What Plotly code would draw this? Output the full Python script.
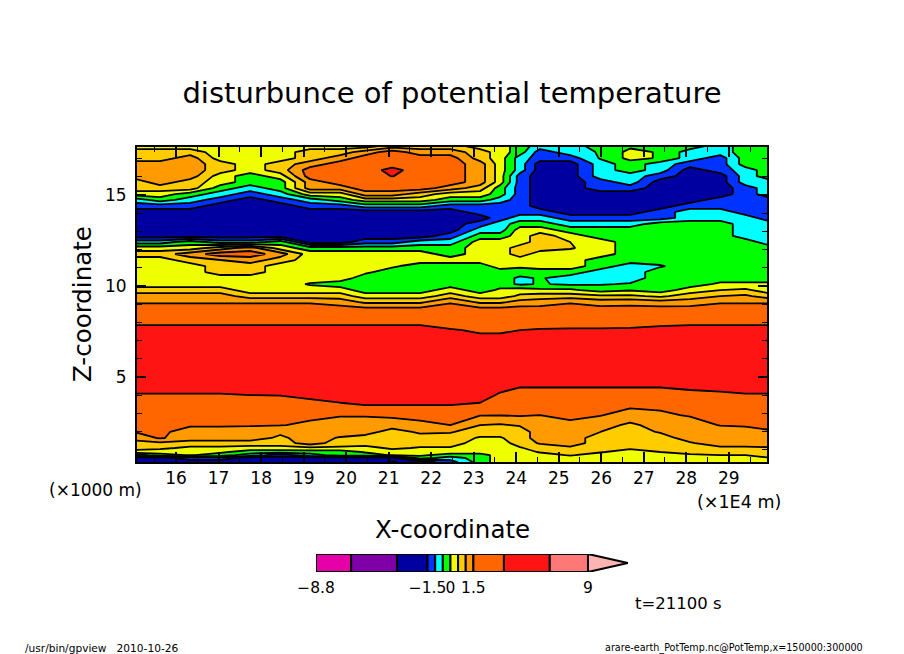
import numpy as np
import plotly.graph_objects as go

# grid positions
x_km = [15.06, 15.62, 16.33, 17.04, 17.74, 18.45, 19.15, 19.86, 20.45, 21.08, 21.74, 22.45,
        23.15, 23.62, 24.09, 24.56, 25.27, 25.98, 26.68, 27.39, 28.09, 28.80, 29.39, 29.93]
z_km = [17.69, 17.36, 17.03, 16.70, 16.37, 16.04, 15.71, 15.38, 15.05, 14.73,
        14.40, 14.07, 13.74, 13.41, 13.08, 12.75, 12.42, 12.09, 11.76, 11.43,
        11.10, 10.77, 10.44, 10.11, 9.78, 9.45, 9.12, 8.68,
        8.13, 7.58, 6.48, 4.84, 4.01, 3.46, 2.91, 2.36,
        1.98, 1.65, 1.37, 1.10, 0.88, 0.71, 0.55, 0.33]

# one vertical profile per x position, top to bottom
profiles = [
    [.25,.75,.75,1.25,1.25,1.25,.75,.75,.25,-.75,
     -1.25,-2.5,-2.5,-2.5,-2.5,-2.5,-.75,.25,.75,.25,
     .25,.25,.25,.25,.75,1.25,1.45,2.5,
     2.5,5,5,5,3.4,2.5,2.5,2.5,
     1.6,1.25,.75,.75,.25,-.75,-2.5,-2.5],
    [.25,.75,.75,1.25,1.25,1.25,1.25,.75,.25,-.25,
     -1.25,-2.5,-2.5,-2.5,-2.5,-2.5,-.75,.25,.75,.25,
     .25,.25,.25,.25,.75,1.25,1.45,2.5,
     2.5,5,5,5,3.4,2.5,2.5,2.5,
     2.0,1.7,.9,.6,.25,-.25,-2.5,-2.5],
    [.25,.75,1.25,1.25,1.25,1.25,.75,.75,-.25,-.75,
     -1.25,-2.5,-2.5,-2.5,-2.5,-2.5,-.25,.25,1.25,.75,
     .25,.25,.25,.25,.75,1.25,1.45,2.5,
     2.5,5,5,5,3.4,2.5,2.5,1.8,
     1.25,1.25,.75,.4,.25,.05,-1.25,-2.5],
    [.25,.25,.25,.75,.75,.25,.25,-.25,-.75,-1.25,
     -2.5,-2.5,-2.5,-2.5,-2.5,-2.5,-.75,.75,2.5,1.0,
     .75,.75,.25,.25,.75,1.25,1.45,2.5,
     2.5,5,5,5,3.4,2.5,2.5,1.8,
     1.25,1.25,.75,.4,.1,-.25,-1.25,-2.5],
    [.25,.25,.25,.25,.25,-.25,-.25,-.75,-1.25,-2.5,
     -2.5,-2.5,-2.5,-2.5,-2.5,-2.5,-.75,1.25,2.5,1.25,
     .75,.75,.25,.25,.25,.75,1.45,2.5,
     2.5,5,5,5,3.5,2.5,2.5,1.7,
     1.25,1.25,.75,.3,-.25,-.75,-2.5,-2.5],
    [.25,.25,.25,.75,.75,.25,-.25,-.25,-.75,-1.25,
     -2.5,-2.5,-2.5,-2.5,-2.5,-2.5,-.25,.25,1.25,.75,
     .25,.25,.25,.25,.25,.75,1.45,2.5,
     2.5,5,5,5,3.6,2.5,2.5,1.6,
     1.1,.9,.75,.3,-.25,-1.25,-2.5,-2.5],
    [.25,.75,.75,1.25,2.5,2.5,1.25,1.25,.25,-.75,
     -1.25,-2.5,-2.5,-2.5,-2.5,-2.5,-2.5,-.25,.25,.25,
     .25,.25,.25,-.05,.25,.75,1.45,2.5,
     2.5,5,5,5,4.0,3.0,2.0,1.4,
     1.25,1.25,1.25,.4,-.25,-.75,-2.5,-2.5],
    [.25,.75,1.25,2.5,2.5,2.5,2.5,1.25,.25,-.25,
     -1.25,-2.5,-2.5,-2.5,-2.5,-2.5,-2.5,-.25,.25,.25,
     .25,.25,.25,-.25,.25,.75,1.3,2.5,
     2.5,5,5,5,4.5,3.3,1.7,1.25,
     1.25,.95,.75,.4,-.25,-.25,-2.5,-2.5],
    [.25,1.25,2.5,2.5,2.5,2.5,2.5,2.5,1.25,.25,
     -.75,-2.5,-2.5,-2.5,-2.5,-2.5,-1.25,-.25,.25,.25,
     .25,.1,-.25,-.25,-.25,.25,.9,2.5,
     2.5,5,5,5,5,3.5,1.7,1.25,
     1.25,.75,.75,.3,.05,-.25,-2.5,-2.5],
    [.75,2.5,2.5,2.5,4.5,3.6,2.5,2.5,1.25,.25,
     -.75,-2.5,-2.5,-2.5,-2.5,-2.5,-1.25,-.25,.25,.25,
     .1,-.25,-.25,-.25,-.25,.25,.9,2.5,
     2.5,5,5,5,5,3.5,1.9,1.25,
     .75,.75,.75,.6,.25,.05,-2.5,-3.8],
    [.75,1.25,2.5,2.5,2.5,2.5,2.5,2.5,.75,.25,
     -.75,-2.5,-2.5,-2.5,-2.5,-2.5,-.75,-.25,.25,.25,
     -.25,-.25,-.25,-.25,-.25,.25,.9,2.5,
     2.5,5,5,5,5,3.5,2.0,1.4,
     1.1,.75,.75,.45,.25,.1,-.25,-2.5],
    [.75,1.25,2.5,2.5,2.5,2.5,2.5,1.25,.25,-.25,
     -1.25,-2.5,-2.5,-2.5,-2.5,-1.25,-.75,-.25,-.25,.25,
     -.25,-.25,-.25,-.25,.25,.75,1.45,2.5,
     2.5,3.7,5,5,5,3.5,2.0,1.5,
     1.05,.75,.75,.45,.25,-.25,-.75,-1.25],
    [.25,.75,.75,1.25,1.25,1.25,1.25,.75,.25,-.25,
     -1.25,-1.25,-2.5,-1.25,-.75,-.25,.25,.25,.25,.25,
     -.25,-.25,-.25,-.25,-.25,.25,.9,2.5,
     2.5,3.3,5,5,4.5,3.3,1.6,1.0,
     .7,.45,.25,.25,.25,-.25,-.25,-.25],
    [.25,.25,.25,.25,.25,.25,.25,-.25,-.25,-.75,
     -1.25,-1.25,-1.25,-.75,-.75,-.25,.25,.25,.25,.25,
     .25,-.25,-.25,-.25,.1,.25,.9,2.5,
     2.5,3.3,5,5,3.3,2.5,1.6,.95,
     .7,.45,.25,.25,.25,.25,.25,.25],
    [-.25,-.25,-.75,-.75,-.75,-1.25,-1.25,-1.25,-1.25,-1.25,
     -1.25,-1.25,-.75,-.25,.25,.25,.25,.75,.75,.25,
     .1,-.25,-.6,-.6,.25,.6,1.2,2.5,
     2.5,3.5,5,5,2.5,2.5,1.7,1.05,
     .75,.75,.75,.45,.25,.25,.25,.25],
    [-.75,-1.25,-1.25,-2.5,-2.5,-2.5,-2.5,-2.5,-2.5,-2.5,
     -2.5,-1.25,-.75,-.25,.25,.75,.75,.75,.25,.25,
     .25,-.25,-.45,-.45,.1,.75,1.25,2.5,
     2.5,3.7,5,5,2.5,2.5,1.5,1.25,
     1.25,1.25,1.05,.75,.55,.25,.25,.25],
    [-.75,-.75,-1.25,-2.5,-2.5,-2.5,-2.5,-2.5,-2.5,-2.5,
     -2.5,-2.5,-1.25,-.75,-.25,.25,.5,.55,.25,.25,
     .25,-.25,-.75,-.6,.1,.75,1.45,2.5,
     2.5,3.8,5,5,2.5,2.5,1.9,1.4,
     1.25,1.25,1.25,.9,.75,.55,.25,.25],
    [-.25,-.45,-.45,-.75,-.75,-.75,-1.25,-1.25,-2.5,-2.5,
     -2.5,-2.5,-1.25,-.75,-.25,-.25,.25,.25,.25,-.25,
     -.25,-.75,-.75,-.55,-.2,.6,1.25,2.5,
     2.5,3.8,5,5,2.5,2.5,1.6,1.2,
     1.0,.75,.75,.75,.55,.25,.25,.25],
    [-.1,.15,.15,-.25,-.25,-.75,-.75,-1.25,-2.5,-2.5,
     -2.5,-2.5,-1.25,-.75,-.25,-.25,-.25,-.25,-.25,-.25,
     -.75,-.75,-.75,-.45,-.05,.6,1.3,2.5,
     2.5,3.9,5,5,2.5,1.9,1.3,.9,
     .75,.75,.75,.6,.25,.25,.25,.25],
    [-.25,-.05,-.05,-.75,-.75,-1.25,-2.5,-2.5,-2.5,-2.5,
     -2.5,-1.25,-1.25,-.25,-.25,-.25,-.25,-.25,-.25,-.25,
     -.55,-.25,-.25,-.25,-.25,.4,1.2,2.5,
     2.5,4.5,5,5,2.5,2.0,1.4,1.2,
     1.05,.75,.75,.75,.5,.25,.25,.25],
    [-.25,-.75,-.75,-1.25,-2.5,-2.5,-2.5,-2.5,-2.5,-2.5,
     -1.25,-.75,-.75,-.25,-.25,-.25,-.25,-.25,-.25,-.25,
     -.25,-.25,-.25,-.25,.25,.75,1.25,2.5,
     2.5,5,5,5,3.0,2.5,1.7,1.25,
     1.25,1.25,.95,.75,.75,.4,.25,.25],
    [-.75,-.75,-1.25,-1.25,-1.25,-2.5,-2.5,-2.5,-2.5,-1.25,
     -1.25,-.75,-.75,-.25,-.25,-.25,-.25,-.25,-.25,-.25,
     -.25,-.25,-.25,.1,.5,1.0,1.45,2.5,
     2.5,5,5,5,3.2,2.5,2.5,1.6,
     1.25,1.25,1.25,.9,.75,.5,.25,.25],
    [-.25,-.25,-.25,-.25,-.75,-.75,-.75,-1.25,-1.25,-1.25,
     -1.25,-1.25,-.75,-.75,-.75,-.75,-.25,-.25,-.25,-.25,
     -.25,-.25,-.25,.1,.6,1.1,1.45,2.5,
     2.5,5,5,5,3.4,2.5,2.5,1.8,
     1.25,1.25,1.25,.9,.75,.5,.25,.25],
    [-.25,-.25,-.25,-.25,-.25,-.25,-.75,-.75,-.75,-1.25,
     -1.25,-1.25,-1.25,-.75,-.75,-.75,-.75,-.25,-.25,-.25,
     -.25,-.25,-.25,.1,.25,.75,1.45,2.5,
     2.5,5,5,5,3.4,2.5,2.5,1.9,
     1.45,1.25,1.25,.95,.75,.75,.45,.25],
]

# colour bar
levels = [-8.8, -6.5, -3.5, -1.5, -1.0, -0.5, 0, 0.5, 1.0, 1.5, 3.5, 6.5, 9]
tip_value = 11.62
band_colors = ["#e600a8", "#7f00a8", "#0000a0", "#0033ff", "#00ffff", "#00ff00", "#f0ff00",
               "#ffcc00", "#ff9a00", "#ff6600", "#ff1414", "#ff7878", "#ffb4b4"]
level_ticks = [-8.8, -1.5, 0, 1.5, 9]
level_labels = ["\u22128.8", "\u22121.5", "0", "1.5", "9"]

W, H = 904, 654
FONT = "DejaVu Sans"


def px(v):
    return v / W


def py(v):
    return 1 - v / H


# levels are not evenly spaced, so contour on the level number instead
theta = np.array(profiles).T
level_no = np.interp(theta, levels + [tip_value], np.arange(len(levels) + 1))

n = len(band_colors)
scale = []
for i, c in enumerate(band_colors):
    scale += [[i / n, c], [(i + 1) / n, c]]

fig = go.Figure()
fig.add_trace(go.Contour(
    x=x_km, y=z_km, z=level_no, zmin=0, zmax=n, colorscale=scale, showscale=False,
    contours=dict(start=1, end=n - 1, size=1, coloring="fill"),
    line=dict(color="black", width=1.8, smoothing=0),
))

# colour bar drawn as bars on its own axes
for lo, hi, c in zip(levels[:-1], levels[1:], band_colors):
    fig.add_trace(go.Bar(x=[hi - lo], y=[0.5], base=[lo], width=1, orientation="h",
                         marker=dict(color=c, line=dict(color="black", width=2)),
                         xaxis="x2", yaxis="y2", showlegend=False))
fig.add_trace(go.Scatter(x=[levels[-1], tip_value, levels[-1], levels[-1]], y=[0, 0.5, 1, 0],
                         mode="lines", fill="toself", fillcolor=band_colors[-1],
                         line=dict(color="black", width=2),
                         xaxis="x2", yaxis="y2", showlegend=False))


def note(text, x, y, size, angle=0):
    fig.add_annotation(text=text, x=px(x), y=py(y), xref="paper", yref="paper", showarrow=False,
                       xanchor="center", yanchor="middle", textangle=angle,
                       font=dict(family=FONT, size=size, color="black"))


note("X-coordinate", 452, 529, 24.5)
note("Z-coordinate", 83, 304, 24.5, angle=-90)
note("(\u00d71000 m)", 95, 490, 17)
note("(\u00d71E4 m)", 739, 502, 17.5)
note("t=21100 s", 678, 603, 16.5)
note("/usr/bin/gpview\u00a0\u00a0\u00a02010-10-26", 101, 648, 10.6)
note("arare-earth_PotTemp.nc@PotTemp,x=150000:300000", 734, 648, 9.6)

axis_style = dict(showline=True, linecolor="black", linewidth=2, mirror="allticks", ticks="inside",
                  tickcolor="black", tickwidth=2, showgrid=False, zeroline=False, automargin=False,
                  tickfont=dict(family=FONT, size=17, color="black"))
fig.update_layout(
    width=W, height=H, margin=dict(l=0, r=0, t=0, b=0),
    paper_bgcolor="white", plot_bgcolor="white", barmode="overlay", showlegend=False,
    title=dict(text="disturbunce of potential temperature", x=px(452), xanchor="center",
               y=py(93), yanchor="middle", font=dict(family=FONT, size=29, color="black")),
    xaxis=dict(axis_style, domain=[px(137), px(767)], range=[15.08, 29.90], tick0=16, dtick=1,
               ticklen=10, minor=dict(dtick=0.5, ticks="inside", ticklen=5, tickcolor="black", tickwidth=1)),
    yaxis=dict(axis_style, domain=[py(462), py(147)], range=[0.33, 17.64], tick0=5, dtick=5,
               ticklen=9, ticklabelstandoff=5,
               minor=dict(dtick=1, ticks="inside", ticklen=5, tickcolor="black", tickwidth=1)),
    xaxis2=dict(domain=[px(316), px(628)], range=[levels[0], tip_value], anchor="y2", showgrid=False,
                zeroline=False, showline=False, automargin=False, tickmode="array", tickvals=level_ticks,
                ticktext=level_labels, tickangle=0, ticks="outside", ticklen=1, tickcolor="rgba(0,0,0,0)",
                tickfont=dict(family=FONT, size=15.5, color="black")),
    yaxis2=dict(domain=[py(572), py(554)], range=[0, 1], anchor="x2", showgrid=False, zeroline=False,
                showline=False, automargin=False, showticklabels=False, ticks=""),
)

fig.write_html("out.html", config=dict(displayModeBar=False),
               post_script="document.body.style.margin='0';")
